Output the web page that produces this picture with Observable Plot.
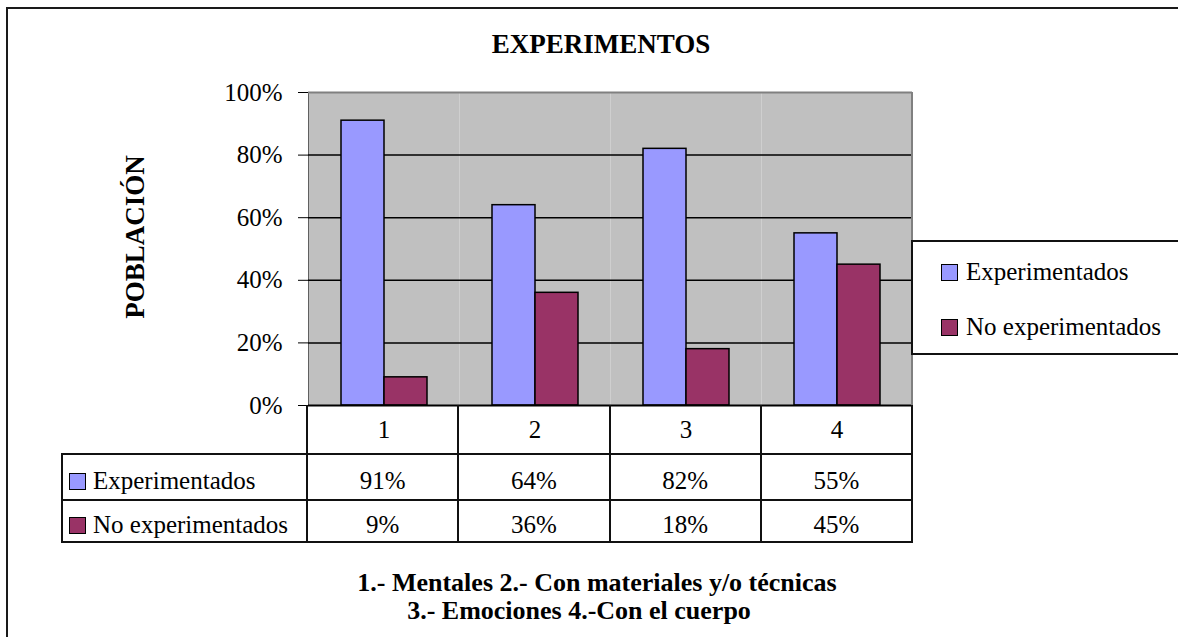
<!DOCTYPE html>
<html>
<head>
<meta charset="utf-8">
<script src="https://cdn.jsdelivr.net/npm/d3@7"></script>
<script src="https://cdn.jsdelivr.net/npm/@observablehq/plot@0.6"></script>
<style>
  html, body { margin: 0; padding: 0; background: #fff; }
  #wrap { position: relative; width: 1178px; height: 637px; overflow: hidden; font-family: "Liberation Serif", "Times New Roman", serif; color: #000; }
  #outer { position: absolute; left: 6px; top: 7px; width: 1400px; height: 900px; border-left: 2px solid #1a1a1a; border-top: 2px solid #1a1a1a; }
  #chart { position: absolute; left: 0; top: 0; }
  .abs { position: absolute; }
  .txt { position: absolute; white-space: nowrap; }
  .line { position: absolute; background: #111; }
  .sq { display: inline-block; width: 14px; height: 14px; border: 1px solid #000; vertical-align: middle; }
</style>
</head>
<body>
<div id="wrap">
  <div id="outer"></div>
  <div id="chart"></div>
</div>
<script>
// ---- data ----
const categories = ["1", "2", "3", "4"];
const seriesNames = ["Experimentados", "No experimentados"];
const experimentados = [0.91, 0.64, 0.82, 0.55];
const noExperimentados = [0.09, 0.36, 0.18, 0.45];
const yTicks = [0, 0.2, 0.4, 0.6, 0.8, 1];
const seriesColors = ["#9999FF", "#993366"];
const chartTitle = "EXPERIMENTOS";
const yTitle = "POBLACIÓN";
const captionLines = ["1.- Mentales 2.- Con materiales y/o técnicas", "3.- Emociones 4.-Con el cuerpo"];

const seriesValues = [experimentados, noExperimentados];
const data = categories.flatMap((c, i) => seriesNames.map((s, j) => ({cat: c, series: s, value: seriesValues[j][i]})));
const pct = d3.format(".0%");

// ---- layout ----
const W = 1178, H = 637;
const mL = 307, mR = W - 912, mT = 92, mB = H - 405;
const font = "'Liberation Serif', 'Times New Roman', serif";

const chart = Plot.plot({
  width: W, height: H,
  marginLeft: mL, marginRight: mR, marginTop: mT, marginBottom: mB,
  style: {fontFamily: font, fontSize: "25px", background: "transparent", color: "#000", overflow: "visible"},
  fx: {domain: categories, padding: 0, label: null, tickSize: 0, tickPadding: 15, axis: "bottom"},
  x: {domain: seriesNames, axis: null, paddingInner: 0, paddingOuter: 0.716},
  y: {domain: [0, 1], ticks: yTicks, tickFormat: pct, tickSize: 10, tickPadding: 16, label: null, line: true},
  color: {domain: seriesNames, range: seriesColors},
  marks: [
    Plot.frame({fill: "#c0c0c0", stroke: "none"}),
    Plot.ruleY([0.2, 0.4, 0.6, 0.8], {stroke: "#000", strokeWidth: 1.5}),
    Plot.ruleY([1], {stroke: "#808080", strokeWidth: 2}),
    Plot.barY(data, {fx: "cat", x: "series", y: "value", fill: "series", stroke: "#000", strokeWidth: 1.5}),
    Plot.ruleY([0], {stroke: "#000", strokeWidth: 2})
  ]
});
document.getElementById("chart").appendChild(chart);

const wrap = document.getElementById("wrap");
function el(tag, cls, style, html) {
  const e = document.createElement(tag);
  if (cls) e.className = cls;
  Object.assign(e.style, style);
  if (html != null) e.innerHTML = html;
  wrap.appendChild(e);
  return e;
}

// right border of plot area
el("div", "line", {left: "911px", top: mT + "px", width: "2px", height: (H - mB - mT) + "px", background: "#808080"});

// title
el("div", "txt", {left: (601 - 300) + "px", width: "600px", top: "31px", textAlign: "center", fontWeight: "bold", fontSize: "27px", lineHeight: "27px"}, chartTitle);

// y title (rotated)
el("div", "txt", {left: (135 - 150) + "px", top: (237 - 14) + "px", width: "300px", textAlign: "center", fontWeight: "bold", fontSize: "27px", lineHeight: "28px", transform: "rotate(-90deg)", transformOrigin: "50% 50%"}, yTitle);

// data table
const plotLeft = mL, plotRight = W - mR;
const step = (plotRight - plotLeft) / categories.length;
const colX = [62, plotLeft, ...categories.map((c, i) => plotLeft + step * (i + 1))];
const rowY = [405, 454, 500, 542];
for (let r = 1; r < rowY.length; r++) {
  el("div", "line", {left: (colX[0] - 1) + "px", top: (rowY[r] - 1) + "px", width: (plotRight - colX[0] + 2) + "px", height: "2px"});
}
el("div", "line", {left: (colX[0] - 1) + "px", top: (rowY[1] - 1) + "px", width: "2px", height: (rowY[3] - rowY[1] + 2) + "px"});
for (let c = 1; c < colX.length; c++) {
  el("div", "line", {left: (colX[c] - 1) + "px", top: rowY[0] + "px", width: "2px", height: (rowY[3] - rowY[0] + 1) + "px"});
}
seriesNames.forEach((s, j) => {
  const top = rowY[j + 1], h = rowY[j + 2] - rowY[j + 1];
  el("div", "txt", {left: (colX[0] + 7) + "px", top: (top + 4) + "px", height: h + "px", lineHeight: h + "px", fontSize: "25px"},
    `<span class="sq" style="background:${seriesColors[j]};width:15px;height:15px;margin-right:7px;position:relative;top:-2px"></span>${s}`);
  categories.forEach((c, i) => {
    el("div", "txt", {left: colX[i + 1] + "px", width: step + "px", top: (top + 4) + "px", height: h + "px", lineHeight: h + "px", textAlign: "center", fontSize: "25px"},
      pct(seriesValues[j][i]));
  });
});

// legend
el("div", "abs", {left: "911px", top: "240px", width: "300px", height: "111px", border: "2px solid #111", background: "#fff"});
const legendRows = [272, 327];
seriesNames.forEach((s, j) => {
  el("div", "txt", {left: "941px", top: (legendRows[j] - 15) + "px", height: "30px", lineHeight: "30px", fontSize: "25px"},
    `<span class="sq" style="background:${seriesColors[j]};width:15px;height:15px;margin-right:8px;position:relative;top:-2px"></span>${s}`);
});

// caption
const capCenters = [597, 579];
const capBaselines = [592, 620];
captionLines.forEach((t, k) => {
  el("div", "txt", {left: (capCenters[k] - 400) + "px", width: "800px", top: (capBaselines[k] - 22) + "px", textAlign: "center", fontWeight: "bold", fontSize: "26px", lineHeight: "26px"}, t);
});
</script>
</body>
</html>
